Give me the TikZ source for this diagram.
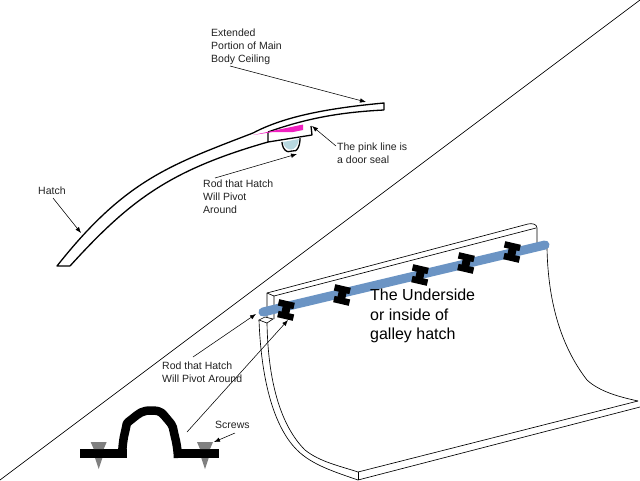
\documentclass[tikz,border=0pt]{standalone}
\usepackage{fontspec}
\setmainfont{Liberation Sans}
\usetikzlibrary{arrows.meta}
\definecolor{rodblue}{HTML}{6B94C4}
\definecolor{sealpink}{HTML}{F020C0}
\definecolor{rodfill}{HTML}{B8D8E0}
\definecolor{screwgray}{HTML}{808080}
\definecolor{txt}{HTML}{222222}
\tikzset{
 lbl/.style={font=\fontsize{10.5}{13}\selectfont,align=left,anchor=north west,inner sep=0pt,text=txt},
 biglbl/.style={font=\fontsize{16}{19.5}\selectfont,align=left,anchor=north west,inner sep=0pt,text=black},
 lead/.style={draw=black,line width=0.55pt,-{Latex[length=6pt,width=4.5pt]}},
 thin outline/.style={draw=black,line width=0.65pt},
 hatchline/.style={draw=black,line width=1.3pt},
}
\begin{document}
\begin{tikzpicture}[x=1pt,y=-1pt]
\useasboundingbox[fill=white] (0,0) rectangle (640,480);
% diagonal
\draw[thin outline] (0,480) -- (640,0);
% hatch section
\draw[hatchline,line join=round] (253,133) .. controls (285,116) and (330,108) .. (384,103) -- (384,110);
\draw[hatchline] (384,110) .. controls (345,112) and (310,117) .. (268,132);
\draw[hatchline,line join=round] (253,133) .. controls (170,165) and (125,180) .. (57,266) -- (70,266);
\draw[hatchline] (70,266) .. controls (130,200) and (170,170) .. (268,142);
\draw[hatchline,line join=round] (268,132) -- (268,142) -- (312,135) -- (311,126);
\fill[rodfill] (283,142) .. controls (285,152) and (297,153) .. (299,139) -- cycle;
\draw[hatchline] plot[smooth,tension=1] coordinates {(282,142) (285,150) (292,151) (298,148) (300,138)};
\fill[sealpink] (253,135) -- (303,124.5) -- (303,130) -- (293,132) -- (273,132) -- cycle;
% surface
\draw[thin outline,line join=round] (267,317) -- (267,293) -- (528,224) .. controls (532,223) and (537,224) .. (537,228) -- (537,248);
\draw[thin outline] (274,319) -- (274,296) -- (536,228);
\draw[thin outline] (267,293) -- (274,296);
\draw[thin outline] (259,320) -- (265,317) -- (273,319) -- (267,323) -- cycle;
\draw[thin outline] (259,320) .. controls (261,375) and (272,425) .. (297,450) .. controls (312,465) and (335,472) .. (358,480);
\draw[thin outline] (267,323) .. controls (268,380) and (280,425) .. (305,450) .. controls (320,462) and (340,466) .. (358,472);
\draw[thin outline] (358,472) -- (358,480);
\draw[thin outline] (358,472) -- (638,401);
\draw[thin outline] (358,480) -- (640,407);
\draw[thin outline] (547,248) .. controls (548,300) and (560,345) .. (587,380) .. controls (600,392) and (620,397) .. (638,401);
% rod
\draw[rodblue,line width=9pt,line cap=round] (263,312) -- (545,245);
% clips
\foreach \nm/\cx/\cy in {c1/286/310,c2/342/295,c3/420/275,c4/466/263,c5/512/252}{
 \begin{scope}[shift={(\cx,\cy)},rotate=-13]
  \fill[black] (-9,-9) rectangle (7,-2.5);
  \fill[black] (-7,2.5) rectangle (9,9);
  \fill[black] (-4,-4) rectangle (4,4);
 \end{scope}}
% bracket
\fill[black] (80,449) rectangle (127,458);
\fill[black] (175,449) rectangle (219,458);
\draw[black,line width=8.5pt,line join=round] plot[smooth,tension=1] coordinates {(122,457) (125,432) (132,419) (152,410.5) (168,420) (175,437) (178,458)};
\foreach \sx in {98.7,205}{
 \fill[screwgray] (\sx-8,442) -- (\sx+8,442) -- (\sx+5,449) -- (\sx-5,449) -- cycle;
 \fill[screwgray] (\sx-3.7,458) -- (\sx+3.7,458) -- (\sx,469) -- cycle;
}
% labels
\node[lbl] (tExt) at (211,29) {Extended\\Portion of Main\\Body Ceiling};
\node[lbl] (tHatch) at (38,187) {Hatch};
\node[lbl] (tSeal) at (337,143) {The pink line is\\a door seal};
\node[lbl] (tRodA) at (203,180) {Rod that Hatch\\Will Pivot\\Around};
\node[lbl] (tRodB) at (162,362) {Rod that Hatch\\Will Pivot Around};
\node[lbl] (tScrews) at (215,421) {Screws};
\node[biglbl] (tBig) at (370,289) {The Underside\\or inside of\\galley hatch};
% leaders
\coordinate (a1) at (230,66); \coordinate (a1e) at (366,102);
\draw[lead] (a1) -- (a1e);
\coordinate (a2) at (53,198); \coordinate (a2e) at (81,233);
\draw[lead] (a2) -- (a2e);
\coordinate (a3) at (336,146); \coordinate (a3e) at (312,126);
\draw[lead] (a3) -- (a3e);
\coordinate (a4) at (215,178); \coordinate (a4e) at (297,154);
\draw[lead] (a4) -- (a4e);
\coordinate (a5) at (193,357); \coordinate (a5e) at (256,314);
\draw[lead] (a5) -- (a5e);
\coordinate (a6) at (187,432); \coordinate (a6e) at (288,320);
\draw[lead] (a6) -- (a6e);
\coordinate (a7) at (235,433); \coordinate (a7e) at (214,442);
\draw[lead] (a7) -- (a7e);
\end{tikzpicture}
\end{document}
